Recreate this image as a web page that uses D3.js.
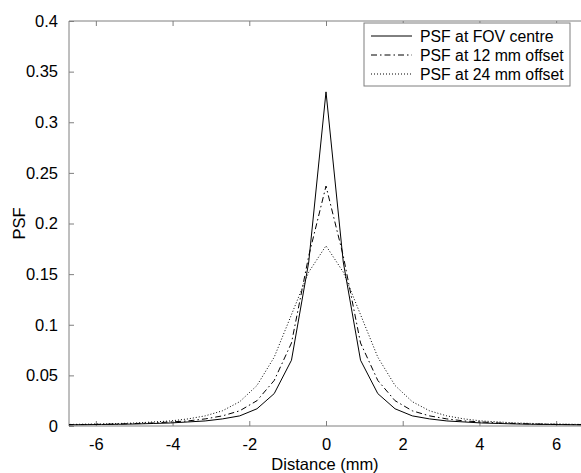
<!DOCTYPE html>
<html><head><meta charset="utf-8">
<script src="https://cdn.jsdelivr.net/npm/d3@7"></script>
<style>body{margin:0;background:#fff}svg{display:block;font-family:Arial,"Liberation Sans",sans-serif}</style>
</head><body><svg id="c" width="581" height="473"></svg>
<script>
const xPos = [-6.75,-6.3,-5.85,-5.4,-4.95,-4.5,-4.05,-3.6,-3.15,-2.7,-2.25,-1.8,-1.35,-0.9,-0.45,0,0.45,0.9,1.35,1.8,2.25,2.7,3.15,3.6,4.05,4.5,4.95,5.4,5.85,6.3,6.75];
const halfCentre = [0.33,0.162,0.065,0.032,0.017,0.010,0.007,0.005,0.004,0.003,0.0025,0.002,0.0017,0.0015,0.0013,0.0012];
const half12 = [0.237,0.168,0.082,0.045,0.025,0.015,0.010,0.007,0.005,0.004,0.003,0.0025,0.002,0.0017,0.0015,0.0013];
const half24 = [0.178,0.152,0.110,0.068,0.040,0.024,0.015,0.010,0.007,0.005,0.004,0.003,0.0025,0.002,0.0018,0.0015];
const seriesNames = ["PSF at FOV centre","PSF at 12 mm offset","PSF at 24 mm offset"];
const xTicks = [-6,-4,-2,0,2,4,6];
const yTicks = [0,0.05,0.1,0.15,0.2,0.25,0.3,0.35,0.4];

function sym(h){ return h.slice(1).reverse().concat(h); }
const series = [sym(halfCentre), sym(half12), sym(half24)];
const dashes = [null, "6,3,1.5,3", "1,2"];

const svg = d3.select("#c");
const L=69, R=583, T=21, B=426;
const x = d3.scaleLinear().domain([-6.7,6.7]).range([L,R]);
const y = d3.scaleLinear().domain([0,0.4]).range([B,T]);

svg.append("defs").append("clipPath").attr("id","clip").append("rect")
  .attr("x",L).attr("y",T).attr("width",R-L).attr("height",B-T);

const axCol="#7f7f7f";
const fs="16.5px";
const fmt = d => d===0?"0":String(d);
const gb = svg.append("g").attr("transform",`translate(0,${B})`)
  .call(d3.axisBottom(x).tickValues(xTicks).tickSize(-5).tickPadding(12).tickFormat(fmt));
const gt = svg.append("g").attr("transform",`translate(0,${T})`)
  .call(d3.axisTop(x).tickValues(xTicks).tickSize(-5).tickFormat(""));
const gl = svg.append("g").attr("transform",`translate(${L},0)`)
  .call(d3.axisLeft(y).tickValues(yTicks).tickSize(-5).tickPadding(11).tickFormat(fmt));
[gb,gt,gl].forEach(g=>{
  g.selectAll(".domain").attr("stroke",axCol);
  g.selectAll(".tick line").attr("stroke",axCol);
  g.selectAll("text").attr("fill","#000").style("font-size",fs).style("font-family","Arial, 'Liberation Sans', sans-serif");
});
gb.selectAll(".domain").attr("d",`M${L},0H${R}`);
gt.selectAll(".domain").attr("d",`M${L},0H${R}`);
gl.selectAll(".domain").attr("d",`M0,${B}V${T}`);

const line = d3.line().x((d,i)=>x(xPos[i])).y(d=>y(d));
const gp = svg.append("g").attr("clip-path","url(#clip)");
series.forEach((s,k)=>{
  gp.append("path").attr("d",line(s)).attr("fill","none").attr("stroke","#000")
    .attr("stroke-width",1).attr("stroke-dasharray",dashes[k]);
});

svg.append("text").attr("x",325).attr("y",470).attr("text-anchor","middle")
  .style("font-size",fs).text("Distance (mm)");
svg.append("text").attr("transform",`translate(25,${(T+B)/2}) rotate(-90)`).attr("text-anchor","middle")
  .style("font-size",fs).text("PSF");

const lg = svg.append("g");
lg.append("rect").attr("x",364).attr("y",23).attr("width",206).attr("height",63)
  .attr("fill","#fff").attr("stroke",axCol);
seriesNames.forEach((n,k)=>{
  const yy = 36 + k*19;
  lg.append("line").attr("x1",371).attr("x2",412).attr("y1",yy).attr("y2",yy)
    .attr("stroke","#000").attr("stroke-dasharray",dashes[k]);
  lg.append("text").attr("x",420).attr("y",yy+6).style("font-size","15.8px").text(n);
});
</script></body></html>
